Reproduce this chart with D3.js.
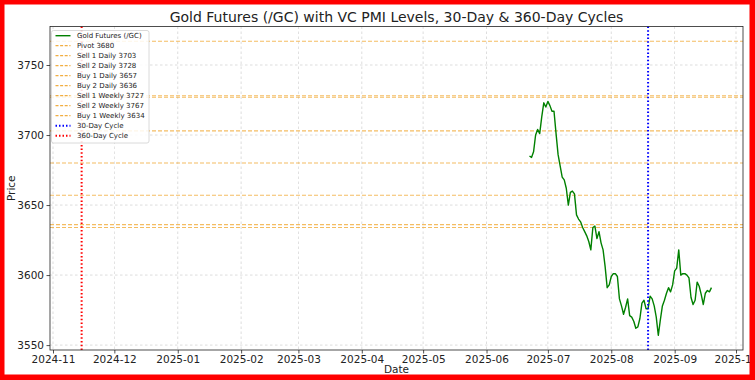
<!DOCTYPE html>
<html><head><meta charset="utf-8">
<script src="https://cdn.jsdelivr.net/npm/d3@7"></script>
<style>body{margin:0;background:#fff}svg{display:block;font-family:"DejaVu Sans",sans-serif}</style>
</head><body><svg id="c" width="755" height="380"></svg>
<script>
const title = "Gold Futures (/GC) with VC PMI Levels, 30-Day & 360-Day Cycles";
const priceStart = "2025-06-22";
const priceValues = [3685,3684,3688,3700,3704,3701,3713,3723,3720,3724,
 3721,3717,3717,3701,3686,3678,3670,3668,3662,3650,
 3659,3660,3658,3643,3640,3638,3634,3631,3628,3624,
 3618,3634,3635,3626,3631,3623,3618,3606,3591,3593,
 3599,3601,3601,3599,3583,3578,3572,3577,3583,3571,
 3570,3567,3562,3563,3569,3580,3582,3576,3576,3585,
 3583,3578,3570,3557,3568,3578,3582,3587,3591,3588,
 3593,3603,3605,3618,3600,3601,3601,3600,3598,3584,
 3579,3582,3595,3592,3586,3579,3587,3589,3588,3591];
const levelLabels = ["Pivot 3680","Sell 1 Daily 3703","Sell 2 Daily 3728","Buy 1 Daily 3657","Buy 2 Daily 3636","Sell 1 Weekly 3727","Sell 2 Weekly 3767","Buy 1 Weekly 3634"];
const levelValues = [3680,3703,3728,3657,3636,3727,3767,3634];
const cycleLabels = ["30-Day Cycle","360-Day Cycle"];
const cycleDates = ["2025-08-19","2024-11-15"];
const yTicks = [3550,3600,3650,3700,3750];
const xTickMonths = ["2024-11","2024-12","2025-01","2025-02","2025-03","2025-04","2025-05","2025-06","2025-07","2025-08","2025-09","2025-10"];

const parse = d3.utcParse("%Y-%m-%d");
const parseM = d3.utcParse("%Y-%m");
const fmtM = d3.utcFormat("%Y-%m");
const s0 = parse(priceStart);
const data = priceValues.map((v,i)=>({d:d3.utcDay.offset(s0,i), v}));

const L=50, R=743, T=26.5, B=350;
const dayMs = 86400000;
const x = d3.scaleUtc()
  .domain([new Date(parseM("2024-11").getTime()-1.47*dayMs), new Date(parseM("2025-10").getTime()+3.42*dayMs)])
  .range([L,R]);
const y = d3.scaleLinear().domain([3546.5,3777.5]).range([B,T]);

const svg = d3.select("#c");
svg.append("rect").attr("width",755).attr("height",380).attr("fill","#fff");

// grid
const g = svg.append("g");
g.selectAll(".gx").data(xTickMonths.map(parseM)).join("line")
  .attr("x1",d=>x(d)).attr("x2",d=>x(d)).attr("y1",T).attr("y2",B)
  .attr("stroke","#b0b0b0").attr("stroke-width",0.6).attr("stroke-dasharray","2.5,2.5").attr("opacity",0.7);
g.selectAll(".gy").data(yTicks).join("line")
  .attr("x1",L).attr("x2",R).attr("y1",d=>y(d)).attr("y2",d=>y(d))
  .attr("stroke","#b0b0b0").attr("stroke-width",0.6).attr("stroke-dasharray","2.5,2.5").attr("opacity",0.7);

// level lines
const lvlColor = "#f0a020";
svg.append("g").selectAll("line").data(levelValues).join("line")
  .attr("x1",L).attr("x2",R).attr("y1",d=>y(d)).attr("y2",d=>y(d))
  .attr("stroke",lvlColor).attr("stroke-opacity",0.7).attr("stroke-width",1.1).attr("stroke-dasharray","4,2");

// price line
svg.append("path").datum(data)
  .attr("fill","none").attr("stroke","#008000").attr("stroke-width",1.4).attr("stroke-linejoin","round")
  .attr("d", d3.line().x(d=>x(d.d)).y(d=>y(d.v)));

// cycles
const cycColors = ["#0000ff","#ff0000"];
svg.append("g").selectAll("line").data(cycleDates).join("line")
  .attr("x1",d=>x(parse(d))).attr("x2",d=>x(parse(d))).attr("y1",T).attr("y2",B)
  .attr("stroke",(d,i)=>cycColors[i]).attr("stroke-width",2).attr("stroke-dasharray","1.5,2.2");

// axes
const xAxis = d3.axisBottom(x).tickValues(xTickMonths.map(parseM)).tickFormat(fmtM).tickSize(3.5).tickPadding(2.5);
const yAxis = d3.axisLeft(y).tickValues(yTicks).tickFormat(d3.format("d")).tickSize(3.5).tickPadding(2.5);
const gx = svg.append("g").attr("transform",`translate(0,${B})`).call(xAxis);
const gy = svg.append("g").attr("transform",`translate(${L},0)`).call(yAxis);
[gx,gy].forEach(a=>{
  a.select(".domain").remove();
  a.selectAll("text").attr("font-size",10.5).attr("fill","#222").attr("font-family","DejaVu Sans");
  a.selectAll("line").attr("stroke","#222").attr("stroke-width",0.8);
});
svg.append("rect").attr("x",L).attr("y",T).attr("width",R-L).attr("height",B-T)
  .attr("fill","none").attr("stroke","#222").attr("stroke-width",0.8);

// labels
svg.append("text").attr("x",(L+R)/2).attr("y",21.5).attr("text-anchor","middle")
  .attr("font-size",14).attr("fill","#222").text(title);
svg.append("text").attr("x",(L+R)/2).attr("y",373).attr("text-anchor","middle")
  .attr("font-size",10.5).attr("fill","#222").text("Date");
svg.append("text").attr("transform",`translate(15,${(T+B)/2}) rotate(-90)`).attr("text-anchor","middle")
  .attr("font-size",10.5).attr("fill","#222").text("Price");

// legend
const leg = svg.append("g").attr("transform","translate(51.5,30.5)");
leg.append("rect").attr("width",97.5).attr("height",112.5).attr("rx",2)
  .attr("fill","#fff").attr("fill-opacity",0.85).attr("stroke","#d0d0d0").attr("stroke-width",0.8);
const entries = [{label:"Gold Futures (/GC)",color:"#008000",dash:null,w:1.4}]
  .concat(levelLabels.map(l=>({label:l,color:lvlColor,dash:"3,1.6",w:1.2,op:0.85})))
  .concat(cycleLabels.map((l,i)=>({label:l,color:cycColors[i],dash:"1.5,2",w:2})));
const le = leg.selectAll("g").data(entries).join("g")
  .attr("transform",(d,i)=>`translate(0,${5.2+i*10})`);
le.append("line").attr("x1",4).attr("x2",19).attr("y1",0).attr("y2",0)
  .attr("stroke",d=>d.color).attr("stroke-width",d=>d.w).attr("stroke-opacity",d=>d.op||1)
  .attr("stroke-dasharray",d=>d.dash);
le.append("text").attr("x",25.5).attr("y",2.4).attr("font-size",7).attr("fill","#222").text(d=>d.label);

// red frame
svg.append("path").attr("fill","#ff0000").attr("fill-rule","evenodd")
  .attr("d","M0,0H755V380H0Z M4.5,4.5V374.5H749.5V4.5Z");
</script></body></html>
